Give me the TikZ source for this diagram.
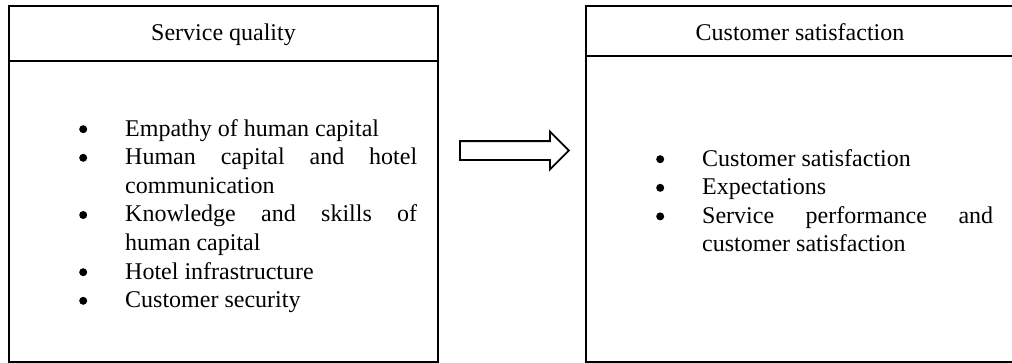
\documentclass[tikz,border=0pt]{standalone}
\usepackage{fontspec}
\setmainfont{Liberation Serif}
\usetikzlibrary{shapes.arrows}
\begin{document}
\begin{tikzpicture}[x=1pt,y=-1pt,
  box/.style={draw,line width=2pt,inner sep=0pt,outer sep=0pt,anchor=north west},
  ttl/.style={font=\fontsize{24}{28.5}\selectfont,anchor=base,inner sep=0pt},
  lst/.style={font=\fontsize{24}{28.6}\selectfont,anchor=base west,inner sep=0pt,align=justify},
  blockarrow/.style={single arrow,draw,line width=1.8pt,inner xsep=0pt,inner ysep=8.5pt,
    minimum height=109pt,single arrow head extend=9.5pt,single arrow head indent=0pt,anchor=west}
]
\useasboundingbox (0,0) rectangle (1012,362);
% left box
\node[box,minimum width=429pt,minimum height=355.5pt] (sq) at (9,6) {};
\coordinate (sqh) at (0,61);
\draw[line width=2.7pt] (sq.west |- sqh) -- (sq.east |- sqh);
\node[ttl] (sqt) at (223.5,40) {Service quality};
\newcommand{\bul}{\makebox[42pt][l]{\hspace*{-4pt}\tikz[baseline=0pt]\fill (4pt,6.8pt) circle[radius=4pt];}}
\newcommand{\itm}[1]{\noindent\hangindent=42pt\hangafter=1\bul#1\par}
\node[lst,text width=334pt] (sql) at (83,136) {\hyphenpenalty=10000\tolerance=10000%
\itm{Empathy of human capital}%
\itm{Human capital and hotel\linebreak communication}%
\itm{Knowledge and skills of\linebreak human capital}%
\itm{Hotel infrastructure}%
\itm{Customer security}};
% right box
\node[box,minimum width=427pt,minimum height=355.5pt] (cs) at (586,6) {};
\coordinate (csh) at (0,56);
\draw[line width=2pt] (cs.west |- csh) -- (cs.east |- csh);
\node[ttl] (cst) at (800,40) {Customer satisfaction};
\node[lst,text width=333pt] (csl) at (660,166) {\hyphenpenalty=10000\tolerance=10000%
\itm{Customer satisfaction}%
\itm{Expectations}%
\itm{Service performance and\linebreak customer satisfaction}};
% arrow
\node[blockarrow] (arr) at (459,150.5) {};
\end{tikzpicture}
\end{document}
